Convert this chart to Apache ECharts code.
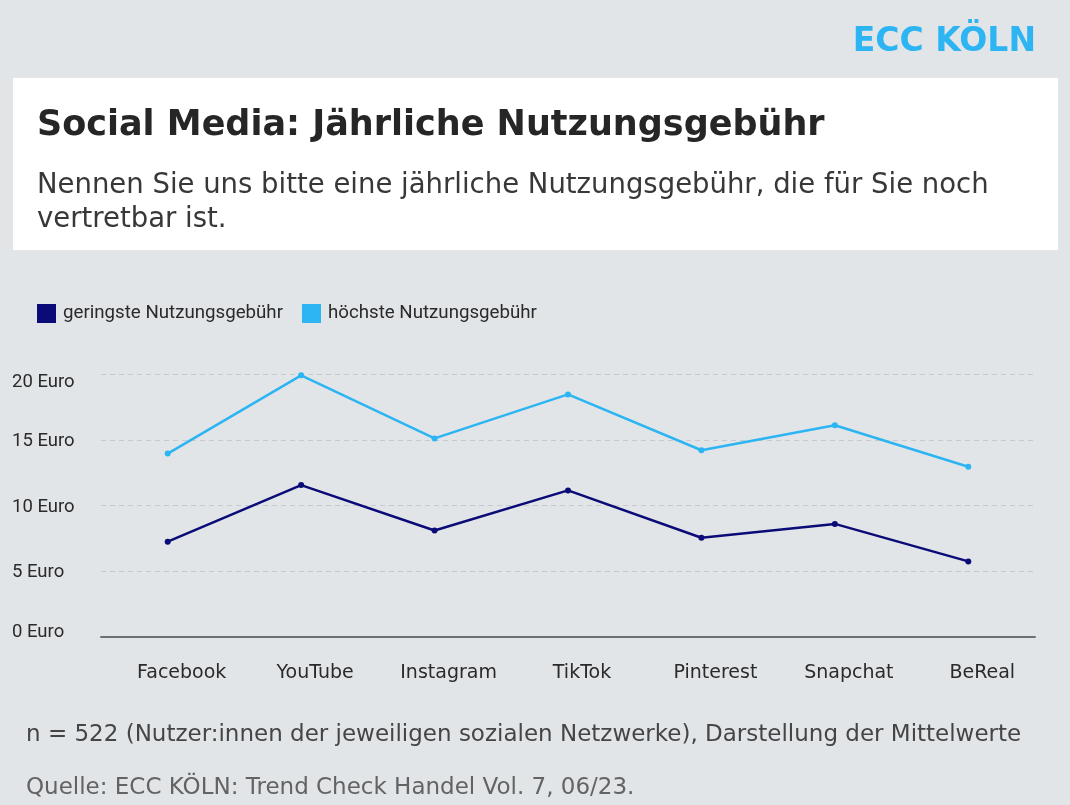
<!DOCTYPE html>
<html>
<head>
<meta charset="utf-8">
<script src="https://cdn.jsdelivr.net/npm/echarts@6/dist/echarts.min.js"></script>
<style>
html,body{margin:0;padding:0;background:#e2e5e8;}
#c{width:1070px;height:805px;}
</style>
</head>
<body>
<div id="c"></div>
<script>
const categories = ['Facebook', 'YouTube', 'Instagram', 'TikTok', 'Pinterest', 'Snapchat', 'BeReal'];
const lowFee = [7.25, 11.55, 8.1, 11.15, 7.55, 8.6, 5.75];
const highFee = [13.95, 19.9, 15.1, 18.45, 14.2, 16.1, 12.95];
const yTicks = [0, 5, 10, 15, 20];
const seriesNames = ['geringste Nutzungsgebühr', 'höchste Nutzungsgebühr'];
const titleText = 'Social Media: Jährliche Nutzungsgebühr';
const subtitleText = 'Nennen Sie uns bitte eine jährliche Nutzungsgebühr, die für Sie noch\nvertretbar ist.';
const noteText = 'n = 522 (Nutzer:innen der jeweiligen sozialen Netzwerke), Darstellung der Mittelwerte';
const sourceText = 'Quelle: ECC KÖLN: Trend Check Handel Vol. 7, 06/23.';
const brandText = 'ECC KÖLN';

const dark = '#0b0b78';
const light = '#2cb5f2';
const wide = 'DejaVu Sans';

const chart = echarts.init(document.getElementById('c'), null, {renderer: 'canvas'});
chart.setOption({
  backgroundColor: '#e2e5e8',
  animation: false,
  graphic: [
    {type: 'rect', left: 13, top: 78, shape: {width: 1045, height: 172}, style: {fill: '#ffffff'}, z: -1}
  ],
  title: [
    {text: brandText, right: 34, top: 26, padding: 0, textStyle: {fontFamily: wide, fontWeight: 'bold', fontSize: 33, color: light}},
    {text: titleText, left: 37, top: 108, padding: 0, textStyle: {fontFamily: wide, fontWeight: 'bold', fontSize: 35, color: '#262626'}},
    {text: subtitleText, left: 37, top: 168.5, padding: 0, textStyle: {fontFamily: wide, fontWeight: 'normal', fontSize: 27.5, lineHeight: 34, color: '#383838'}},
    {text: noteText, left: 26, top: 724, padding: 0, textStyle: {fontFamily: wide, fontWeight: 'normal', fontSize: 23, color: '#454545'}},
    {text: sourceText, left: 26, top: 776.5, padding: 0, textStyle: {fontFamily: wide, fontWeight: 'normal', fontSize: 23, color: '#636363'}}
  ],
  legend: {
    left: 37, top: 304, padding: 0,
    itemWidth: 19, itemHeight: 19, itemGap: 19,
    icon: 'rect',
    textStyle: {fontFamily: 'Roboto', fontSize: 18.7, color: '#2a2a2a', padding: [0, 0, 0, 2]},
    data: seriesNames
  },
  grid: {left: 101, right: 35, top: 374, bottom: 168, containLabel: false},
  xAxis: {
    type: 'category',
    data: categories,
    boundaryGap: true,
    axisLine: {show: true, lineStyle: {color: '#6d7075', width: 2}},
    axisTick: {show: false},
    axisLabel: {margin: 27, fontFamily: wide, fontSize: 19, color: '#2a2a2a', padding: [0, 0, 0, 28]}
  },
  yAxis: {
    type: 'value', min: 0, max: 20, interval: 5,
    axisLine: {show: false}, axisTick: {show: false},
    splitLine: {show: true, lineStyle: {color: '#c6c9cd', type: [5, 4], width: 1}},
    axisLabel: {
      customValues: yTicks,
      formatter: v => v === yTicks[yTicks.length - 1] ? '{t|' + v + ' Euro}' : (v === yTicks[0] ? '{b|' + v + ' Euro}' : '{m|' + v + ' Euro}'),
      rich: {
        t: {padding: [16, 0, 0, 0], fontFamily: 'Roboto', fontSize: 18.5, color: '#2a2a2a'},
        m: {padding: [3, 0, 0, 0], fontFamily: 'Roboto', fontSize: 18.5, color: '#2a2a2a'},
        b: {padding: [0, 0, 9, 0], fontFamily: 'Roboto', fontSize: 18.5, color: '#2a2a2a'}
      },
      align: 'left', margin: 89,
      fontFamily: 'Roboto', fontSize: 18.5, color: '#2a2a2a'
    }
  },
  series: [
    {
      name: seriesNames[0], type: 'line', data: lowFee,
      color: dark, symbol: 'circle', symbolSize: 6,
      lineStyle: {width: 2.5, color: dark}, itemStyle: {color: dark}
    },
    {
      name: seriesNames[1], type: 'line', data: highFee,
      color: light, symbol: 'circle', symbolSize: 6,
      lineStyle: {width: 2.5, color: light}, itemStyle: {color: light}
    }
  ]
});
</script>
</body>
</html>
